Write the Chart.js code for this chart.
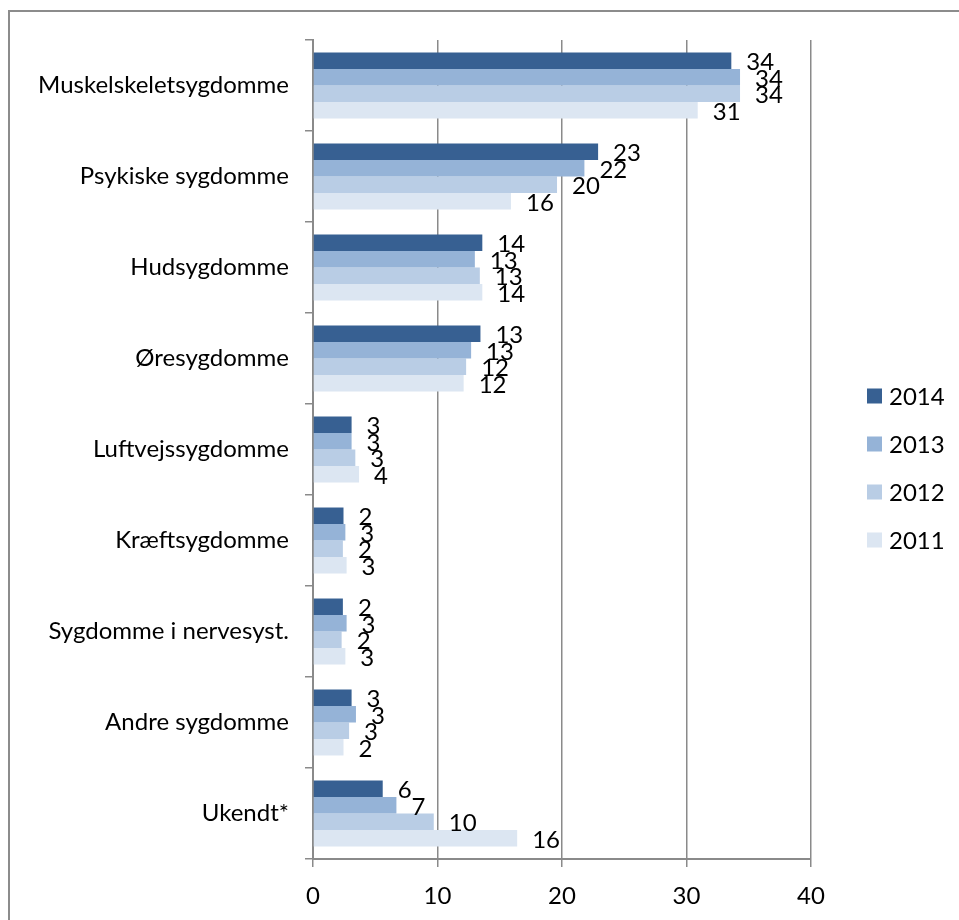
<!DOCTYPE html>
<html>
<head>
<meta charset="utf-8">
<script src="https://cdn.jsdelivr.net/npm/chart.js@4.4.1/dist/chart.umd.min.js"></script>
<style>
  body { margin: 0; background: #fff; }
  #frame { position: absolute; left: 8px; top: 10px; width: 960px; height: 920px;
           border-top: 2px solid #8c8c8c; border-left: 2px solid #8c8c8c; }
  #chart { position: absolute; left: 0; top: 0; }
</style>
</head>
<body>
<div id="frame"></div>
<canvas id="chart" width="959" height="920"></canvas>
<script>
// categories (top to bottom)
const categories = [
  "Muskelskeletsygdomme", "Psykiske sygdomme", "Hudsygdomme", "Øresygdomme",
  "Luftvejssygdomme", "Kræftsygdomme", "Sygdomme i nervesyst.", "Andre sygdomme", "Ukendt*"
];
const years = ["2014", "2013", "2012", "2011"];

// percent values per year
const values2014 = [33.6, 22.9, 13.6, 13.45, 3.1, 2.45, 2.4, 3.1, 5.6];
const values2013 = [34.3, 21.8, 13.0, 12.7, 3.1, 2.6, 2.7, 3.45, 6.7];
const values2012 = [34.3, 19.6, 13.4, 12.3, 3.4, 2.4, 2.3, 2.9, 9.7];
const values2011 = [30.9, 15.9, 13.6, 12.1, 3.7, 2.7, 2.6, 2.45, 16.4];

const xTicks = [0, 10, 20, 30, 40];

const colors = ["#376092", "#95b3d7", "#b9cde5", "#dce6f2"];
const series = [values2014, values2013, values2012, values2011];

const FONT = { family: "Lato, 'Open Sans', sans-serif", size: 24 };
const gridGray = "#8a8a8a";

// value labels at the end of each bar
const barLabels = {
  id: "barLabels",
  afterDatasetsDraw(chart) {
    const ctx = chart.ctx;
    ctx.save();
    ctx.font = FONT.size + "px " + FONT.family;
    ctx.fillStyle = "#000";
    ctx.textAlign = "left";
    ctx.textBaseline = "middle";
    chart.data.datasets.forEach((ds, i) => {
      chart.getDatasetMeta(i).data.forEach((bar, j) => {
        ctx.fillText(String(Math.round(ds.data[j])), bar.x + 15, bar.y + 2);
      });
    });
    ctx.restore();
  }
};

// legend on the right, drawn by hand so the plot area stays put
const sideLegend = {
  id: "sideLegend",
  afterDraw(chart) {
    const ctx = chart.ctx;
    ctx.save();
    ctx.font = FONT.size + "px " + FONT.family;
    ctx.textBaseline = "middle";
    ctx.textAlign = "left";
    chart.data.datasets.forEach((ds, i) => {
      const cy = 396 + i * 48;
      ctx.fillStyle = ds.backgroundColor;
      ctx.fillRect(867, cy - 7.5, 15, 15);
      ctx.fillStyle = "#000";
      ctx.fillText(ds.label, 889, cy + 1);
    });
    ctx.restore();
  }
};

new Chart(document.getElementById("chart"), {
  type: "bar",
  data: {
    labels: categories,
    datasets: years.map((y, i) => ({
      label: y,
      data: series[i],
      backgroundColor: colors[i],
      borderWidth: 0,
      categoryPercentage: 0.725,
      barPercentage: 1
    }))
  },
  options: {
    indexAxis: "y",
    responsive: false,
    animation: false,
    layout: { padding: { top: 40, right: 148, bottom: 0, left: 0 } },
    plugins: { legend: { display: false }, tooltip: { enabled: false } },
    scales: {
      x: {
        min: 0, max: 40,
        afterBuildTicks: (s) => { s.ticks = xTicks.map(v => ({ value: v })); },
        afterFit: (s) => { s.height = 61; },
        grid: { color: gridGray, lineWidth: 1.5, tickLength: 8, drawTicks: true },
        border: { display: true, color: gridGray, width: 2 },
        ticks: { color: "#000", font: FONT, padding: 15 }
      },
      y: {
        afterFit: (s) => { s.width = 313; },
        grid: { display: true, drawOnChartArea: false, offset: true, color: gridGray, tickLength: 8, lineWidth: 1.5 },
        border: { display: true, color: gridGray, width: 2 },
        ticks: { color: "#000", font: FONT, padding: 16 }
      }
    }
  },
  plugins: [barLabels, sideLegend]
});
</script>
</body>
</html>
